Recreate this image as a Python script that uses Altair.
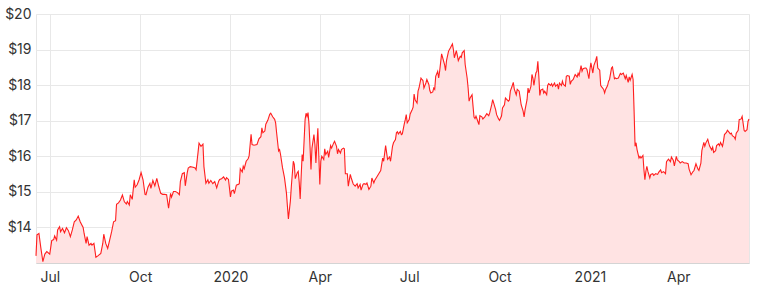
import altair as alt
import pandas as pd

START = "2019-06-17"

# trading-day offsets (days since START) and closing prices
days_a = [0, 1, 3, 5, 7, 9, 11, 14, 16, 18, 19, 21, 22, 24, 25, 27, 29, 31, 33, 35,
          37, 39, 41, 43, 45, 48, 49, 51, 52, 54, 56, 57, 59, 61, 63, 66, 68, 69, 71, 73,
          75, 77, 79, 81, 82, 84, 86, 88, 90]
price_a = [13.20, 13.79, 13.83, 13.41, 13.04, 13.25, 13.32, 13.25, 13.63, 13.66,
           13.76, 13.64, 13.93, 14.02, 13.88, 13.97, 13.85, 13.99, 13.91, 13.74,
           13.93, 14.16, 14.21, 14.32, 14.16, 14.00, 13.83, 13.55, 13.74, 13.50,
           13.55, 13.50, 13.55, 13.16, 13.20, 13.27, 13.55, 13.81, 13.55, 13.41,
           13.64, 13.88, 14.16, 14.19, 14.65, 14.69, 14.77, 14.91, 14.72]

days_b = [92, 93, 95, 96, 98, 100, 101, 103, 105, 107, 109, 111, 112, 114, 116, 117, 119, 121, 123, 125,
          127, 129, 131, 133, 135, 137, 138, 140, 142, 144, 146, 147, 149, 151, 152, 154, 155, 157, 160, 162,
          163, 165, 166, 168, 170, 171, 173, 175, 176, 178, 180, 182]
price_b = [14.66, 14.73, 14.63, 14.92, 14.79, 15.34, 15.13, 15.20, 15.34, 15.54,
           15.34, 14.93, 14.92, 15.13, 15.24, 15.10, 15.32, 15.17, 15.38, 15.15,
           14.96, 14.93, 14.93, 14.92, 14.54, 14.96, 14.85, 15.01, 15.01, 14.98,
           14.92, 15.29, 15.51, 15.54, 15.17, 15.54, 15.67, 15.71, 15.69, 15.67,
           15.62, 16.11, 16.37, 16.28, 16.34, 15.71, 15.24, 15.34, 15.24, 15.32,
           15.23, 15.29]

days_c = [184, 186, 187, 189, 191, 193, 194, 196, 198, 199, 201, 202, 204, 206, 207, 208, 210, 211, 212, 214,
          216, 217, 219, 220, 222, 225, 227, 229, 230, 231, 233, 234, 236, 238, 239, 241, 243, 244, 245, 247,
          248, 249, 251, 252, 253, 255, 256, 257, 259, 260, 262, 263, 264, 266, 267, 268]
price_c = [15.11, 15.30, 15.35, 15.37, 15.42, 15.33, 15.40, 15.35, 14.86, 15.02,
           15.05, 14.95, 15.19, 15.21, 15.23, 15.65, 15.56, 15.72, 15.65, 15.86,
           15.93, 16.01, 16.62, 16.33, 16.31, 16.33, 16.49, 16.55, 16.80, 16.66,
           16.71, 16.90, 17.01, 17.18, 17.21, 17.11, 17.04, 16.94, 16.66, 16.15,
           16.19, 16.05, 15.68, 15.54, 15.40, 14.97, 14.60, 14.24, 14.74, 15.16,
           15.86, 15.77, 15.37, 15.54, 15.58, 15.27]

days_d = [269, 270, 271, 272, 274, 275, 276, 277, 278, 279, 280, 281, 283, 284, 285, 286, 287, 288, 289, 290,
          291, 293, 294, 295, 297, 298, 300, 301, 303, 304, 306, 307, 308, 310, 311, 313, 314, 315, 317, 318,
          320, 321, 323, 325, 327, 328, 330, 331, 333, 334, 336, 337, 339, 341, 342, 344, 345, 347, 349, 351,
          353, 354, 356, 358, 360, 361]
price_d = [14.80, 15.44, 16.05, 15.86, 17.03, 17.21, 17.12, 17.23, 16.89, 16.28,
           15.63, 16.23, 16.61, 16.33, 15.81, 16.33, 16.79, 16.00, 15.21, 15.86,
           16.00, 15.91, 16.21, 16.05, 16.14, 15.97, 16.30, 16.23, 16.37, 16.42,
           16.28, 16.07, 16.19, 16.09, 16.19, 16.23, 16.21, 15.51, 15.51, 15.16,
           15.49, 15.39, 15.22, 15.16, 15.23, 15.11, 15.21, 15.05, 15.21, 15.23,
           15.21, 15.25, 15.07, 15.16, 15.39, 15.25, 15.33, 15.42, 15.51, 15.60,
           15.95, 15.86, 16.30, 15.91, 15.98, 15.86]

days_e = [363, 364, 366, 367, 368, 369, 371, 372, 373, 375, 376, 377, 378, 380, 381, 383, 384, 385, 386, 388,
          389, 390, 392, 393, 394, 395, 397, 398, 400, 401, 402, 404, 405, 406, 407, 409, 410, 411, 413, 414,
          416, 417, 418, 420, 421, 422, 424, 425, 426, 428, 429, 430, 432, 433, 434, 436, 437, 439, 440, 441,
          442, 444, 445, 446, 447, 448, 450, 451]
price_e = [16.28, 16.38, 16.47, 16.66, 16.69, 16.63, 16.70, 16.61, 16.63, 16.91,
           17.03, 17.17, 16.94, 17.03, 17.19, 17.31, 17.38, 17.75, 17.59, 17.50,
           17.83, 17.92, 18.20, 18.16, 18.13, 17.92, 18.06, 18.16, 18.02, 17.85,
           17.78, 17.81, 17.92, 17.88, 18.25, 18.39, 18.20, 18.39, 18.88, 18.78,
           18.58, 18.41, 18.69, 18.95, 19.00, 19.05, 19.16, 19.00, 18.77, 18.97,
           18.84, 18.69, 18.81, 18.78, 18.91, 18.97, 18.58, 18.20, 17.92, 17.55,
           17.64, 17.73, 17.41, 17.10, 17.06, 17.13, 16.97, 16.89]

days_f = [452, 454, 455, 457, 459, 461, 462, 464, 465, 466, 468, 469, 471, 472, 474, 475, 477, 478, 479, 481,
          482, 483, 485, 486, 487, 489, 490, 492, 493, 494, 496, 497, 498, 500, 501, 502, 504, 505, 506, 507,
          508, 509, 510, 511, 512, 513, 514, 516, 517, 518, 520, 521, 522, 524, 525, 526, 528, 529, 531, 532,
          533, 535, 536, 537, 539, 540, 541, 543, 544, 545, 547, 548]
price_f = [17.14, 17.11, 17.05, 17.11, 17.20, 17.14, 17.22, 17.45, 17.59, 17.50,
           17.31, 17.17, 17.05, 17.01, 17.13, 17.36, 17.45, 17.64, 17.61, 17.55,
           17.58, 17.83, 17.99, 18.08, 17.89, 17.73, 17.88, 17.83, 17.64, 17.45,
           17.27, 17.11, 17.31, 17.59, 17.92, 17.78, 17.97, 18.30, 18.20, 17.99,
           18.18, 18.34, 18.39, 18.67, 18.25, 17.71, 17.86, 17.89, 17.78, 17.83,
           17.73, 17.99, 18.04, 17.99, 18.04, 17.97, 18.06, 17.97, 18.02, 17.89,
           18.06, 17.99, 18.11, 18.02, 17.97, 18.25, 18.27, 18.25, 18.02, 18.11,
           18.16, 18.23]

days_g = [549, 551, 552, 553, 555, 556, 557, 559, 560, 561, 563, 564, 565, 567, 568, 570, 571, 572, 574, 575,
          576, 578, 579, 580, 582, 583, 584, 586, 587, 589, 590, 591, 593, 595, 596, 598, 600, 601, 603, 604,
          605, 607, 608, 609, 610, 611, 612, 614, 615, 616, 618, 619, 620, 621, 622, 623, 625, 626, 628, 629,
          631, 633, 634]
price_g = [18.30, 18.23, 18.33, 18.27, 18.55, 18.39, 18.46, 18.48, 18.48, 18.44,
           18.18, 18.44, 18.63, 18.34, 18.55, 18.70, 18.81, 18.48, 18.42, 17.99,
           17.95, 17.88, 17.78, 17.88, 17.99, 18.11, 18.16, 18.48, 18.51, 18.18,
           18.20, 18.18, 18.20, 18.33, 18.30, 18.34, 18.18, 18.27, 18.08, 18.23,
           18.14, 18.30, 18.16, 17.27, 16.28, 16.38, 16.19, 15.95, 16.00, 15.95,
           16.02, 15.63, 15.34, 15.58, 15.72, 15.58, 15.39, 15.49, 15.51, 15.46,
           15.51, 15.49, 15.55]

days_h = [636, 637, 639, 641, 642, 644, 646, 647, 649, 650, 652, 653, 655, 656, 658, 660, 662, 664, 665, 667,
          669, 670, 672, 674, 675, 677, 678, 680, 681, 682, 684, 685, 686, 688, 689, 690, 692, 693, 695, 696,
          697, 699, 700, 701, 703, 704, 705, 707, 708, 709, 711, 712, 713, 715, 716, 718, 719, 720, 721, 722,
          724, 725, 726]
price_h = [15.62, 15.54, 15.57, 15.51, 15.85, 15.92, 15.85, 15.98, 15.88, 15.73,
           16.00, 15.90, 15.85, 15.81, 15.85, 15.81, 15.81, 15.79, 15.64, 15.48,
           15.57, 15.60, 15.79, 15.64, 15.60, 15.81, 16.16, 16.39, 16.28, 16.37,
           16.48, 16.37, 16.28, 16.18, 16.26, 16.11, 16.16, 16.30, 16.35, 16.30,
           16.39, 16.28, 16.42, 16.61, 16.67, 16.73, 16.70, 16.63, 16.65, 16.58,
           16.54, 16.48, 16.65, 16.73, 17.03, 17.05, 17.12, 16.93, 16.73, 16.70,
           16.75, 16.98, 17.05]

month_ticks = [(2019, 7), (2019, 10), (2020, 1), (2020, 4), (2020, 7), (2020, 10), (2021, 1), (2021, 4)]
price_ticks = [13, 14, 15, 16, 17, 18, 19, 20]

days = days_a + days_b + days_c + days_d + days_e + days_f + days_g + days_h
prices = price_a + price_b + price_c + price_d + price_e + price_f + price_g + price_h
assert len(days) == len(prices)

dates = (pd.Timestamp(START) + pd.to_timedelta(days, unit="D")).strftime("%Y-%m-%d")
df = pd.DataFrame({"date": list(dates), "price": prices})

FONT = "Inter"

x = alt.X(
    "date:T",
    scale=alt.Scale(type="utc"),
    axis=alt.Axis(
        values=[alt.DateTime(year=y, month=m, date=1, utc=True) for y, m in month_ticks],
        labelExpr="utcmonth(datum.value) == 0 ? utcFormat(datum.value, '%Y') : utcFormat(datum.value, '%b')",
        ticks=False,
        labelPadding=7,
        domainColor="#d4d4d4",
        title=None,
    ),
)
y = alt.Y(
    "price:Q",
    scale=alt.Scale(domain=[13, 20], nice=False, zero=False),
    axis=alt.Axis(
        values=price_ticks,
        format="$,.0f",
        labelExpr="datum.value <= 13 ? '' : datum.label",
        ticks=False,
        domain=False,
        labelPadding=5,
        title=None,
    ),
)

area = alt.Chart(df).mark_area(color="#ffe3e3", opacity=1).encode(
    x=x, y=y, y2=alt.datum(13)
)
line = alt.Chart(df).mark_line(color="#ff1f1f", strokeWidth=1.1).encode(x=x, y=y)

chart = (
    alt.layer(area, line)
    .properties(
        width=713,
        height=249,
        autosize=alt.AutoSizeParams(type="none"),
        padding={"left": 36, "top": 14, "right": 8, "bottom": 33},
        background="white",
    )
    .configure_view(stroke="#e6e6e6")
    .configure_axis(
        gridColor="#e8e8e8",
        gridWidth=1,
        labelFont=FONT,
        labelFontSize=14,
        labelColor="#333333",
    )
)

chart.save("out.html", embed_options={"renderer": "svg", "actions": False})
